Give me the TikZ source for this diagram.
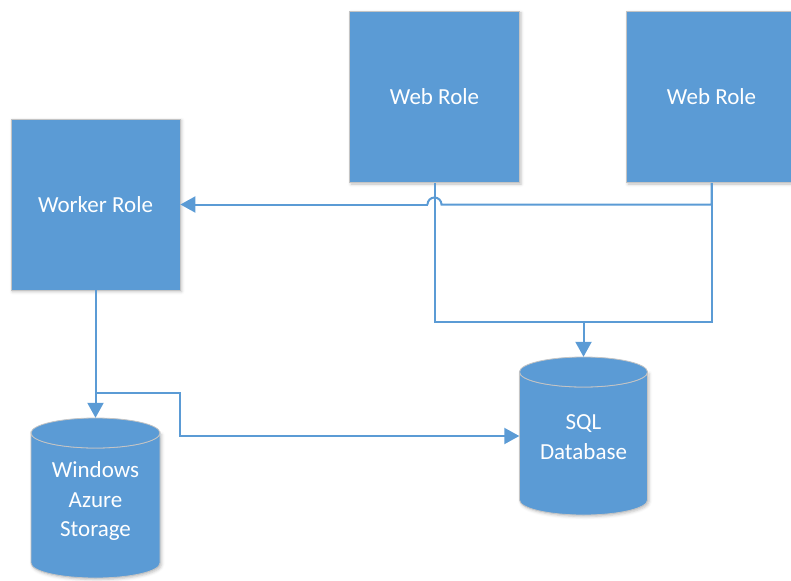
\documentclass[tikz,border=0pt]{standalone}
\usepackage{fontspec}
\setmainfont{Carlito}
\usetikzlibrary{arrows.meta,shadows.blur}
\definecolor{roleblue}{HTML}{5B9BD5}
\definecolor{edgegrey}{HTML}{C4C4C4}
\tikzset{
  role/.style={rectangle, fill=roleblue, draw=edgegrey, line width=0.8pt,
    minimum width=170pt, minimum height=171pt, text=white, align=center,
    font=\fontsize{23}{29.5}\selectfont,
    blur shadow={shadow xshift=1.5pt, shadow yshift=-1.5pt, shadow blur radius=3pt, shadow opacity=25}},
  dbarea/.style={rectangle, minimum width=128pt, text=white, align=center,
    font=\fontsize{23}{29.5}\selectfont, inner sep=0pt},
  cylbody/.style={fill=roleblue, draw=edgegrey, line width=0.8pt,
    blur shadow={shadow xshift=1.5pt, shadow yshift=-1.5pt, shadow blur radius=3pt, shadow opacity=25}},
  conn/.style={draw=roleblue, line width=2pt},
  flow/.style={conn, -{Triangle[length=15pt,width=16pt]}}
}
\begin{document}
\begin{tikzpicture}[x=1pt,y=-1pt]
  \useasboundingbox (0,0) rectangle (791,580);
  \clip (0,0) rectangle (791,580);

  % database cylinders: body, bottom curve and top rim
  \newcommand{\drawcyl}[5]{% cx, top, bottom, rx, ry
    \path[cylbody] (#1-#4,#2+#5) -- (#1-#4,#3-#5)
      arc[start angle=180, end angle=360, x radius=#4pt, y radius=#5pt]
      -- (#1+#4,#2+#5)
      arc[start angle=0, end angle=180, x radius=#4pt, y radius=-#5pt] -- cycle;
    \draw[fill=roleblue, draw=edgegrey, line width=0.8pt] (#1,#2+#5) ellipse[x radius=#4pt, y radius=#5pt];
  }
  \drawcyl{95.5}{418}{578}{64.5}{15}
  \drawcyl{583.5}{357}{515}{64}{15}

  \node[dbarea, minimum height=160pt] (store) at (95.5,498) {};
  \node[dbarea] at (95.5,501) {Windows\\Azure\\Storage};
  \node[dbarea, minimum height=158pt] (sql) at (583.5,436) {};
  \node[dbarea] at (583.5,437) {SQL\\Database};

  % roles
  \node[role, minimum width=169pt] (worker) at (95.5,204.5) {Worker Role};
  \node[role] (web1) at (434.5,97) {Web Role};
  \node[role] (web2) at (711.5,97) {Web Role};

  % queue messages from the web roles to the worker role, hopping over the other drop
  \coordinate (hop) at (web1.south |- worker.east);
  \draw[conn] (web2.south) -- (web2.south |- worker.east) -- ([xshift=7pt]hop)
    arc[start angle=0, end angle=180, radius=7pt];
  \draw[flow] ([xshift=-7pt]hop) -- (worker.east);

  % web roles to the database
  \coordinate (bus) at (0,322);
  \draw[conn] (web1.south) -- (web1.south |- bus) -- (web2.south |- bus) -- (web2.south);
  \draw[flow] (sql.north |- bus) -- (sql.north);

  % worker role to storage and to the database
  \draw[flow] (worker.south) -- (store.north);
  \coordinate (split) at (95.5,393);
  \coordinate (bend) at (180,393);
  \draw[flow] (split) -- (bend) |- (sql.west);
\end{tikzpicture}
\end{document}
